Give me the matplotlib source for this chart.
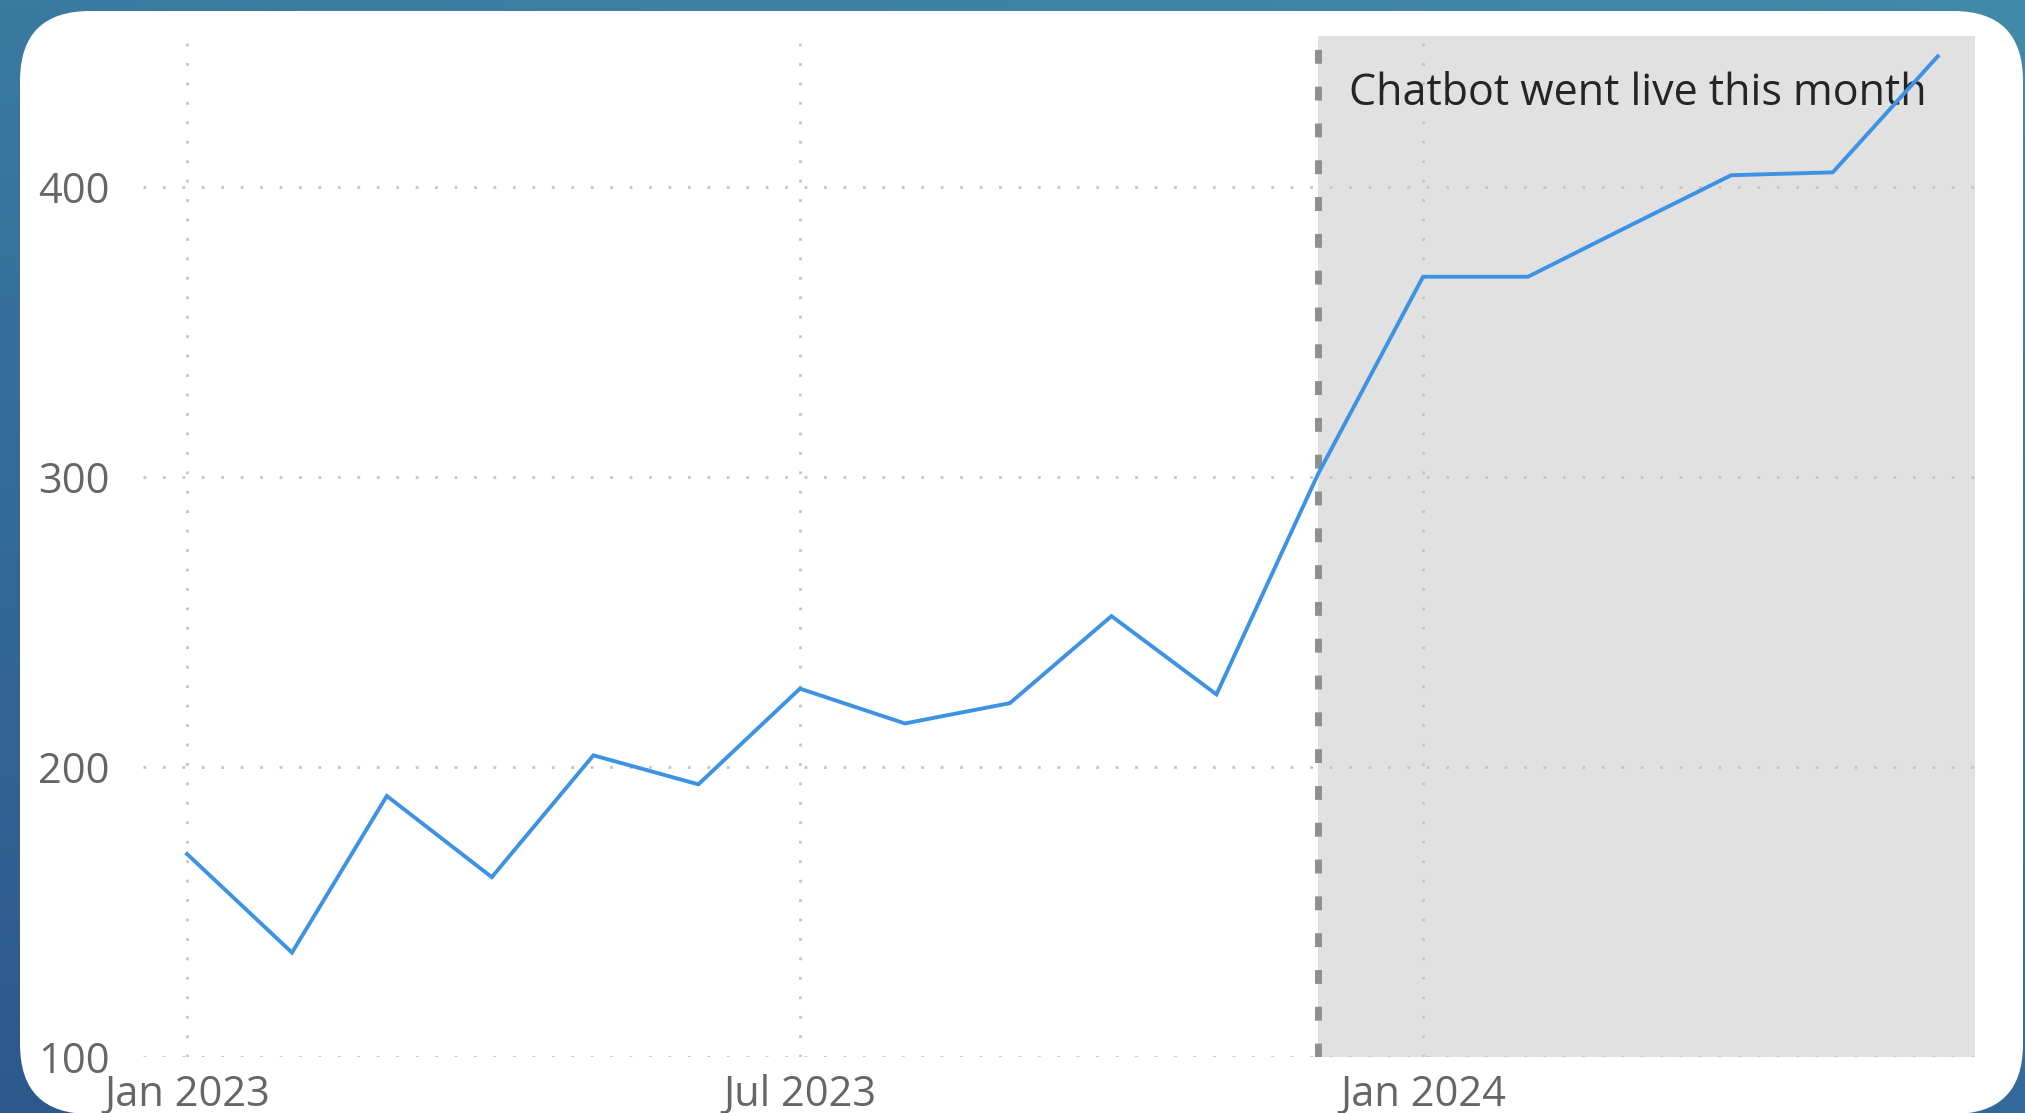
import numpy as np
import pandas as pd
import matplotlib
matplotlib.use('Agg')
import matplotlib.pyplot as plt
from matplotlib.patches import FancyBboxPatch

# data
months = ['2023-01', '2023-02', '2023-03', '2023-04', '2023-05', '2023-06',
          '2023-07', '2023-08', '2023-09', '2023-10', '2023-11', '2023-12',
          '2024-01', '2024-02', '2024-03', '2024-04', '2024-05', '2024-06']
values = [170, 136, 190, 162, 204, 194,
          227, 215, 222, 252, 225, 301,
          369, 369, 386, 404, 405, 445]
y_ticks = [100, 200, 300, 400]
x_ticks = ['2023-01', '2023-07', '2024-01']
x_tick_labels = ['Jan 2023', 'Jul 2023', 'Jan 2024']
launch_month = '2023-12'
note = 'Chatbot went live this month'

dates = pd.to_datetime(months)
launch = pd.Timestamp(launch_month)

plt.rcParams['font.family'] = ['Open Sans', 'DejaVu Sans']

W, H = 2025, 1113
fig = plt.figure(figsize=(W / 100, H / 100), dpi=100)

# blue gradient background with white rounded card
bg = fig.add_axes([0, 0, 1, 1])
bg.set_xlim(0, W)
bg.set_ylim(0, H)
bg.axis('off')
bl = np.array([0x2d, 0x58, 0x8c]) / 255
br = np.array([0x34, 0x6a, 0x9b]) / 255
tl = np.array([0x3a, 0x7a, 0xa0]) / 255
tr = np.array([0x42, 0x8a, 0xa9]) / 255
u = np.linspace(0, 1, 200)[None, :, None]
v = np.linspace(0, 1, 120)[:, None, None]
grad = (bl * (1 - u) * (1 - v) + br * u * (1 - v) + tl * (1 - u) * v + tr * u * v)
bg.imshow(grad, origin='lower', extent=[0, W, 0, H], aspect='auto', zorder=0)
card = FancyBboxPatch((20, -1), 2003, 1103, boxstyle='round,pad=0,rounding_size=70',
                      fc='white', ec='none', zorder=1)
bg.add_patch(card)

# chart
ax = fig.add_axes([143 / W, 1 - 1057 / H, (1975 - 143) / W, (1057 - 36) / H])
ax.set_facecolor('none')

ax.axvspan(launch, pd.Timestamp('2024-06-12'), color='#e1e1e1', lw=0, zorder=0)
ax.axvline(launch, color='#8f8f8f', lw=5, linestyle=(0, (2, 3.3)), zorder=2)
ax.plot(dates, values, color='#3d92e3', lw=2.8, zorder=3, solid_joinstyle='miter')
ax.text(pd.Timestamp('2023-12-10'), 432, note, fontsize=31, color='#252525',
        va='center', ha='left', zorder=2.5)

ax.set_xlim(pd.Timestamp('2022-12-19'), pd.Timestamp('2024-06-12'))
ax.set_ylim(100, 452)
ax.set_yticks(y_ticks)
ax.set_xticks(pd.to_datetime(x_ticks))
ax.set_xticklabels(x_tick_labels)

ax.grid(True, color='#c4c4c4', lw=2, linestyle=(0, (1, 6)))
ax.tick_params(length=0, labelsize=30, labelcolor='#666666')
ax.tick_params(axis='y', pad=24)
ax.tick_params(axis='x', pad=12)
for s in ax.spines.values():
    s.set_visible(False)

fig.savefig('out.png', dpi=100)
